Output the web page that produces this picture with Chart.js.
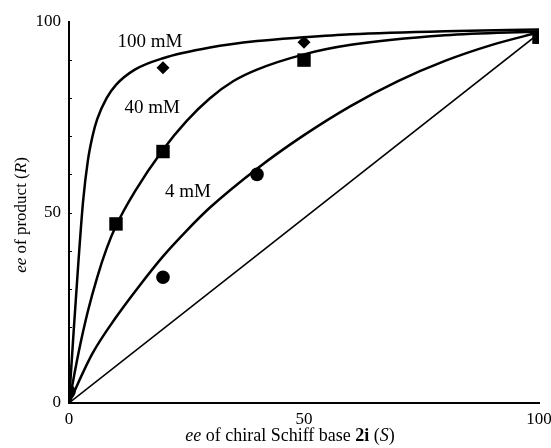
<!DOCTYPE html>
<html>
<head>
<meta charset="utf-8">
<script src="https://cdn.jsdelivr.net/npm/chart.js@4/dist/chart.umd.min.js"></script>
<style>
html,body{margin:0;padding:0;background:#fff;}
#wrap{width:551px;height:448px;position:relative;}
</style>
</head>
<body>
<div id="wrap"><canvas id="c" width="551" height="448"></canvas></div>
<script>
// ---- data ----
const diagX = [0, 100];
const diagY = [0, 97];

const curve100X = [0, 1, 2, 3, 4, 5, 6, 8, 10, 14, 20, 30, 40, 50, 60, 80, 100];
const curve100Y = [0, 19, 37, 53, 63.5, 70, 74.5, 80, 83.5, 87.5, 90.5, 93.3, 95, 96, 96.8, 97.6, 98];

const curve40X = [0, 2, 4, 6, 8, 10, 14, 20, 25, 30, 35, 40, 50, 60, 80, 100];
const curve40Y = [0, 13, 24, 33, 40.5, 46.5, 55.5, 66.5, 74, 80, 84.5, 87.5, 91.5, 94, 96.5, 97.5];

const curve4X = [0, 5, 10, 15, 20, 25, 30, 40, 50, 60, 70, 80, 90, 100];
const curve4Y = [0, 13, 22.5, 30.8, 38.5, 45.2, 51.3, 61.5, 70.3, 78, 84.5, 89.8, 94, 97.3];

const pts100X = [20, 50];
const pts100Y = [88, 94.7];
const pts40X = [10, 20, 50, 100];
const pts40Y = [47, 66, 90, 96];
const pts4X = [0, 20, 40];
const pts4Y = [3, 33, 60];

const xTicks = [0, 50, 100];
const yTickLabels = [0, 50, 100];

const labels = [
  {text: '100 mM', x: 17.2, y: 94.8},
  {text: '40 mM', x: 17.7, y: 77.4},
  {text: '4 mM', x: 25.3, y: 55.4}
];

const zip = (xs, ys) => xs.map((x, i) => ({x: x, y: ys[i]}));
const SERIF = '"Liberation Serif", "DejaVu Serif", serif';

const lineDs = (xs, ys, w) => ({
  data: zip(xs, ys), showLine: true, borderColor: '#000', borderWidth: w,
  pointRadius: 0, pointHoverRadius: 0, cubicInterpolationMode: 'monotone', fill: false
});
const ptDs = (xs, ys, style, r) => ({
  data: zip(xs, ys), showLine: false, pointStyle: style, pointRadius: r,
  pointHoverRadius: r, backgroundColor: '#000', borderColor: '#000', borderWidth: 0
});

function drawRich(ctx, segs, cx, cy) {
  let total = 0;
  segs.forEach(s => { ctx.font = s.font; s.w = ctx.measureText(s.t).width; total += s.w; });
  let x = cx - total / 2;
  ctx.textBaseline = 'middle';
  ctx.textAlign = 'left';
  segs.forEach(s => { ctx.font = s.font; ctx.fillText(s.t, x, cy); x += s.w; });
}

const overlay = {
  id: 'overlay',
  afterDraw(chart) {
    const ctx = chart.ctx;
    const xs = chart.scales.x, ys = chart.scales.y;
    ctx.save();
    ctx.fillStyle = '#000';
    // small inside ticks on y axis
    ctx.strokeStyle = '#000';
    ctx.lineWidth = 1;
    for (let v = 10; v < 100; v += 10) {
      const py = Math.round(ys.getPixelForValue(v)) + 0.5;
      ctx.beginPath();
      ctx.moveTo(xs.left, py);
      ctx.lineTo(xs.left + 3, py);
      ctx.stroke();
    }
    // curve labels
    ctx.font = '19px ' + SERIF;
    ctx.textAlign = 'center';
    ctx.textBaseline = 'middle';
    labels.forEach(l => ctx.fillText(l.text, xs.getPixelForValue(l.x), ys.getPixelForValue(l.y)));
    // x title
    const n = '18px ' + SERIF, it = 'italic 18px ' + SERIF, b = 'bold 18px ' + SERIF;
    drawRich(ctx, [
      {t: 'ee', font: it}, {t: ' of chiral Schiff base ', font: n},
      {t: '2i', font: b}, {t: ' (', font: n}, {t: 'S', font: it}, {t: ')', font: n}
    ], 290, 436);
    // y title
    ctx.translate(22, 215);
    ctx.rotate(-Math.PI / 2);
    drawRich(ctx, [
      {t: 'ee', font: 'italic 17px ' + SERIF}, {t: ' of product (', font: '17px ' + SERIF},
      {t: 'R', font: 'italic 17px ' + SERIF}, {t: ')', font: '17px ' + SERIF}
    ], 0, 0);
    ctx.restore();
  }
};

new Chart(document.getElementById('c'), {
  type: 'scatter',
  data: {
    datasets: [
      lineDs(diagX, diagY, 1.5),
      lineDs(curve100X, curve100Y, 2.5),
      lineDs(curve40X, curve40Y, 2.5),
      lineDs(curve4X, curve4Y, 2.5),
      ptDs(pts100X, pts100Y, 'rectRot', 6.5),
      ptDs(pts40X, pts40Y, 'rect', 9.5),
      ptDs(pts4X, pts4Y, 'circle', 6.8)
    ]
  },
  options: {
    responsive: false,
    animation: false,
    events: [],
    layout: {padding: {top: 22, right: 12, left: 0, bottom: 0}},
    plugins: {legend: {display: false}, tooltip: {enabled: false}},
    scales: {
      x: {
        type: 'linear', min: 0, max: 100,
        afterFit: s => { s.height = 45; s.paddingLeft = 0; s.paddingRight = 0; },
        afterBuildTicks: s => { s.ticks = xTicks.map(v => ({value: v})); },
        ticks: {color: '#000', font: {family: SERIF, size: 17}, padding: 6, maxRotation: 0, autoSkip: false},
        grid: {drawOnChartArea: false, drawTicks: false},
        border: {display: true, color: '#000', width: 2}
      },
      y: {
        type: 'linear', min: 0, max: 100,
        afterFit: s => { s.width = 69; s.paddingTop = 0; s.paddingBottom = 0; },
        afterBuildTicks: s => { s.ticks = yTickLabels.map(v => ({value: v})); },
        ticks: {color: '#000', font: {family: SERIF, size: 17}, padding: 8, autoSkip: false},
        grid: {drawOnChartArea: false, drawTicks: false},
        border: {display: true, color: '#000', width: 2}
      }
    }
  },
  plugins: [overlay]
});
</script>
</body>
</html>
